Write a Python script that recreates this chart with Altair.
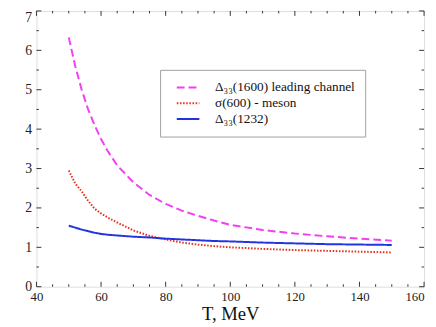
import altair as alt
import pandas as pd

# ---- data ----
T = [50, 52, 54, 56, 58, 60, 62, 65, 70, 75, 80, 85, 90, 95, 100, 110, 120, 130, 140, 150]
delta1600 = [6.33, 5.60, 5.00, 4.50, 4.10, 3.75, 3.45, 3.08, 2.65, 2.33, 2.10, 1.93, 1.80, 1.68, 1.57, 1.44, 1.35, 1.28, 1.22, 1.17]
sigma600 = [2.95, 2.62, 2.42, 2.18, 1.98, 1.86, 1.76, 1.63, 1.43, 1.29, 1.20, 1.12, 1.07, 1.03, 1.00, 0.96, 0.93, 0.91, 0.89, 0.87]
delta1232 = [1.55, 1.50, 1.45, 1.41, 1.37, 1.34, 1.32, 1.30, 1.27, 1.25, 1.22, 1.20, 1.18, 1.16, 1.15, 1.12, 1.10, 1.08, 1.07, 1.06]

series_names = ["Δ₃₃(1600) leading channel", "σ(600) - meson", "Δ₃₃(1232)"]
series_colors = ["#f23ff2", "#e8321e", "#2233e0"]
series_dashes = [[8, 4], [1.6, 1.6], [1, 0]]

x_major = [40, 60, 80, 100, 120, 140, 160]
x_minor = [45, 50, 55, 65, 70, 75, 85, 90, 95, 105, 110, 115, 125, 130, 135, 145, 150, 155]
y_major = [0, 1, 2, 3, 4, 5, 6, 7]
y_minor = [0.5, 1.5, 2.5, 3.5, 4.5, 5.5, 6.5]

rows = []
for name, vals in zip(series_names, [delta1600, sigma600, delta1232]):
    for t, v in zip(T, vals):
        rows.append({"T": t, "v": v, "series": name})
df = pd.DataFrame(rows)

W, H = 395, 281
FONT = "Liberation Serif"
xs = alt.Scale(domain=[40, 160], nice=False, zero=False)
ys = alt.Scale(domain=[0, 7], nice=False)

x_axis = alt.Axis(
    values=x_major, ticks=False, domain=False, grid=False,
    labelFont=FONT, labelFontSize=13, labelColor="#222", labelPadding=4,
    labelFlush=False,
    labelAlign=alt.expr("datum.value == 160 ? 'right' : 'center'"),
    titleFont=FONT, titleFontSize=19, titleFontWeight="normal", titleColor="#111",
    titleBaseline="alphabetic", titleY=33)
y_axis = alt.Axis(
    values=y_major, ticks=False, domain=False, grid=False,
    labelFont=FONT, labelFontSize=14, labelColor="#222", labelPadding=5,
    labelFlush=False,
    labelBaseline=alt.expr("datum.value == 7 ? 'top' : 'middle'"))

leg = dict(
    orient="none", legendX=126, legendY=60, title=None,
    fillColor="white", strokeColor="#a0a0a0",
    padding=10, symbolOffset=6, labelOffset=15,
    labelFont=FONT, labelFontSize=13.5, labelColor="#111",
    symbolType="stroke", symbolSize=529, symbolStrokeWidth=2,
    clipHeight=16, rowPadding=0,
)

lines = alt.Chart(df).mark_line(strokeWidth=2).encode(
    x=alt.X("T:Q", scale=xs, axis=x_axis, title="T, MeV"),
    y=alt.Y("v:Q", scale=ys, axis=y_axis, title=None),
    color=alt.Color("series:N", scale=alt.Scale(domain=series_names, range=series_colors),
                    legend=alt.Legend(**leg)),
    strokeDash=alt.StrokeDash("series:N", scale=alt.Scale(domain=series_names, range=series_dashes),
                              legend=alt.Legend(**leg)),
    order=alt.Order("T:Q"),
)


def xticks(vals, length, top):
    d = pd.DataFrame({"t": vals})
    y0, y1 = (0, length) if top else (H, H - length)
    return alt.Chart(d).mark_rule(color="#333", strokeWidth=1).encode(
        x=alt.X("t:Q", scale=xs, axis=x_axis, title="T, MeV"), y=alt.value(y0), y2=alt.value(y1))


def yticks(vals, length, right):
    d = pd.DataFrame({"t": vals})
    x0, x1 = (W, W - length) if right else (0, length)
    return alt.Chart(d).mark_rule(color="#333", strokeWidth=1).encode(
        y=alt.Y("t:Q", scale=ys, axis=y_axis, title=None), x=alt.value(x0), x2=alt.value(x1))


chart = alt.layer(
    lines,
    xticks(x_major, 5, False), xticks(x_minor, 2.5, False),
    xticks(x_major, 5, True), xticks(x_minor, 2.5, True),
    yticks(y_major, 5, False), yticks(y_minor, 2.5, False),
    yticks(y_major, 5, True), yticks(y_minor, 2.5, True),
).properties(
    width=W, height=H,
    autosize=alt.AutoSizeParams(type="none"),
    padding={"left": 29, "top": 0, "right": 4, "bottom": 36},
    background="white",
).configure_view(
    stroke="#333", strokeWidth=1
).configure_legend(
    strokeWidth=1.5, labelFont=FONT
).configure(font=FONT)

chart.save("out.html", embed_options={"renderer": "svg", "actions": False})
